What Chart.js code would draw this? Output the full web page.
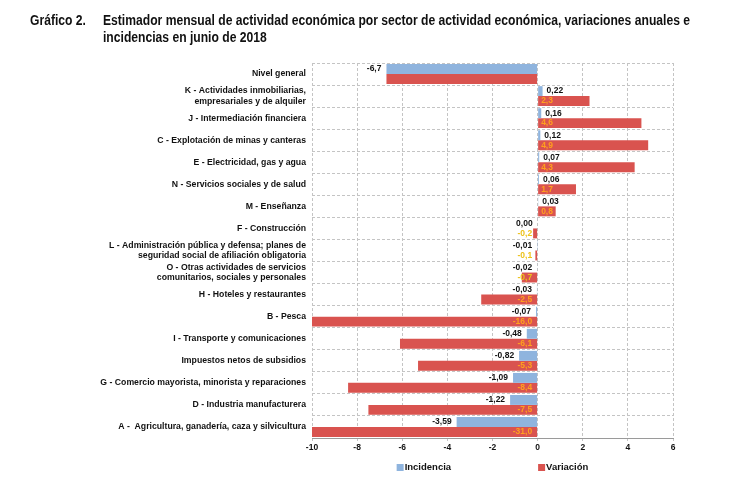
<!DOCTYPE html>
<html>
<head>
<meta charset="utf-8">
<script src="https://cdn.jsdelivr.net/npm/chart.js@4.4.1/dist/chart.umd.min.js"></script>
<style>
  html, body { margin: 0; padding: 0; background: #fff; }
  #wrap { position: relative; width: 737px; height: 486px; overflow: hidden; }
  #title { position: absolute; left: 30px; top: 12px; font-family: "Liberation Sans", Arial, sans-serif; font-weight: bold; font-size: 14px; line-height: 16.5px; color: #111; white-space: nowrap; }
  #title .row { display: block; height: 16.5px; position: relative; }
  #title span { position: absolute; top: 0; transform-origin: 0 0; }
  #canvasBox { position: absolute; left: 0; top: 0; }
</style>
</head>
<body>
<div id="wrap">
  <div id="canvasBox"><canvas id="c" width="737" height="486"></canvas></div>
  <div id="title">
    <div class="row"><span id="lbl">Gráfico 2.</span><span id="l1">Estimador mensual de actividad económica por sector de actividad económica, variaciones anuales e</span></div>
    <div class="row"><span id="l2">incidencias en junio de 2018</span></div>
  </div>
</div>
<script>
const categorias = [
  "Nivel general",
  ["K - Actividades inmobiliarias,", "empresariales y de alquiler"],
  "J - Intermediación financiera",
  "C - Explotación de minas y canteras",
  "E - Electricidad, gas y agua",
  "N - Servicios sociales y de salud",
  "M - Enseñanza",
  "F - Construcción",
  ["L - Administración pública y defensa; planes de", "seguridad social de afiliación obligatoria"],
  ["O - Otras actividades de servicios", "comunitarios, sociales y personales"],
  "H - Hoteles y restaurantes",
  "B - Pesca",
  "I - Transporte y comunicaciones",
  "Impuestos netos de subsidios",
  "G - Comercio mayorista, minorista y reparaciones",
  "D - Industria manufacturera",
  "A -  Agricultura, ganadería, caza y silvicultura"
];
const incidencia = [-6.7, 0.22, 0.16, 0.12, 0.07, 0.06, 0.03, 0.00, -0.01, -0.02, -0.03, -0.07, -0.48, -0.82, -1.09, -1.22, -3.59];
const variacion  = [-6.7, 2.3, 4.6, 4.9, 4.3, 1.7, 0.8, -0.2, -0.1, -0.7, -2.5, -16.0, -6.1, -5.3, -8.4, -7.5, -31.0];
const decimalesIncidencia = [1, 2, 2, 2, 2, 2, 2, 2, 2, 2, 2, 2, 2, 2, 2, 2, 2];
const variacionSinEtiqueta = [0];
const ticksX = [-10, -8, -6, -4, -2, 0, 2, 4, 6];

// Title fit to the reference's narrow bold face
(function () {
  const lbl = document.getElementById('lbl');
  const l1 = document.getElementById('l1');
  const l2 = document.getElementById('l2');
  const s1 = 587 / l1.getBoundingClientRect().width;
  lbl.style.left = '0px';
  [lbl, l1, l2].forEach(e => { e.style.transform = 'scaleX(' + s1 + ')'; });
  [l1, l2].forEach(e => { e.style.left = '73px'; });
})();

const FONT = "'Liberation Sans', Arial, sans-serif";
const AZUL = '#8FB4DE';
const ROJO = '#D9534F';

function fmt(v, d) { return v.toFixed(d).replace('.', ','); }

const etiquetas = {
  id: 'etiquetas',
  afterDatasetsDraw(chart) {
    const ctx = chart.ctx;
    ctx.save();
    ctx.font = 'bold 8.5px ' + FONT;
    ctx.textBaseline = 'middle';
    chart.data.datasets.forEach((ds, di) => {
      const meta = chart.getDatasetMeta(di);
      meta.data.forEach((bar, i) => {
        const v = ds.data[i];
        if (di === 0) {
          const txt = fmt(v, decimalesIncidencia[i]);
          ctx.fillStyle = '#111';
          if (v > 0) { ctx.textAlign = 'left'; ctx.fillText(txt, bar.x + 4, bar.y); }
          else { ctx.textAlign = 'right'; ctx.fillText(txt, Math.min(bar.x, bar.base) - 5, bar.y); }
        } else {
          if (variacionSinEtiqueta.includes(i)) return;
          const txt = fmt(v, 1);
          const w = ctx.measureText(txt).width;
          const len = Math.abs(Math.max(chart.chartArea.left, bar.x) - bar.base);
          ctx.fillStyle = (len > w + 4) ? '#FFA01E' : '#EDC21A';
          if (v > 0) { ctx.textAlign = 'left'; ctx.fillText(txt, bar.base + 3, bar.y); }
          else { ctx.textAlign = 'right'; ctx.fillText(txt, bar.base - 5, bar.y); }
        }
      });
    });
    ctx.restore();
  }
};

const leyenda = {
  id: 'leyenda',
  afterDraw(chart) {
    const ctx = chart.ctx;
    const ca = chart.chartArea;
    ctx.save();
    ctx.font = 'bold 9.5px ' + FONT;
    ctx.textBaseline = 'middle';
    ctx.textAlign = 'left';
    const box = 7, gap = 1, sep = 87;
    const items = chart.data.datasets.map(d => ({ t: d.label, c: d.backgroundColor, w: box + gap + ctx.measureText(d.label).width }));
    const total = items.reduce((s, it) => s + it.w, 0) + sep * (items.length - 1);
    let x = (ca.left + ca.right) / 2 - total / 2;
    const y = 467;
    items.forEach(it => {
      ctx.fillStyle = it.c;
      ctx.fillRect(x, y - 3, box, box);
      ctx.fillStyle = '#111';
      ctx.fillText(it.t, x + box + gap, y);
      x += it.w + sep;
    });
    ctx.restore();
  }
};

new Chart(document.getElementById('c'), {
  type: 'bar',
  data: {
    labels: categorias,
    datasets: [
      { label: 'Incidencia', data: incidencia, backgroundColor: AZUL, categoryPercentage: 0.9, barPercentage: 1.0 },
      { label: 'Variación', data: variacion, backgroundColor: ROJO, categoryPercentage: 0.9, barPercentage: 1.0 }
    ]
  },
  options: {
    indexAxis: 'y',
    responsive: false,
    animation: false,
    devicePixelRatio: 1,
    layout: { padding: { left: 0, top: 63, right: 64, bottom: 0 } },
    plugins: { legend: { display: false }, tooltip: { enabled: false } },
    scales: {
      x: {
        min: -10, max: 6,
        afterBuildTicks(scale) { scale.ticks = ticksX.map(v => ({ value: v })); },
        afterFit(scale) { scale.height = 48; },
        grid: { color: '#C4C4C4', tickLength: 3, drawTicks: true },
        border: { display: true, color: '#9A9A9A', width: 1, dash: [3, 2] },
        ticks: { color: '#111', padding: 2, font: { family: FONT, size: 8.5, weight: 'bold' }, callback: v => String(v) }
      },
      y: {
        afterFit(scale) { scale.width = 312; },
        grid: { color: '#C4C4C4', drawTicks: false },
        border: { display: false, dash: [3, 2] },
        ticks: { color: '#111', padding: 6, autoSkip: false, font: { family: FONT, size: 8.7, weight: 'bold', lineHeight: 1.2 } }
      }
    }
  },
  plugins: [etiquetas, leyenda]
});
</script>
</body>
</html>
